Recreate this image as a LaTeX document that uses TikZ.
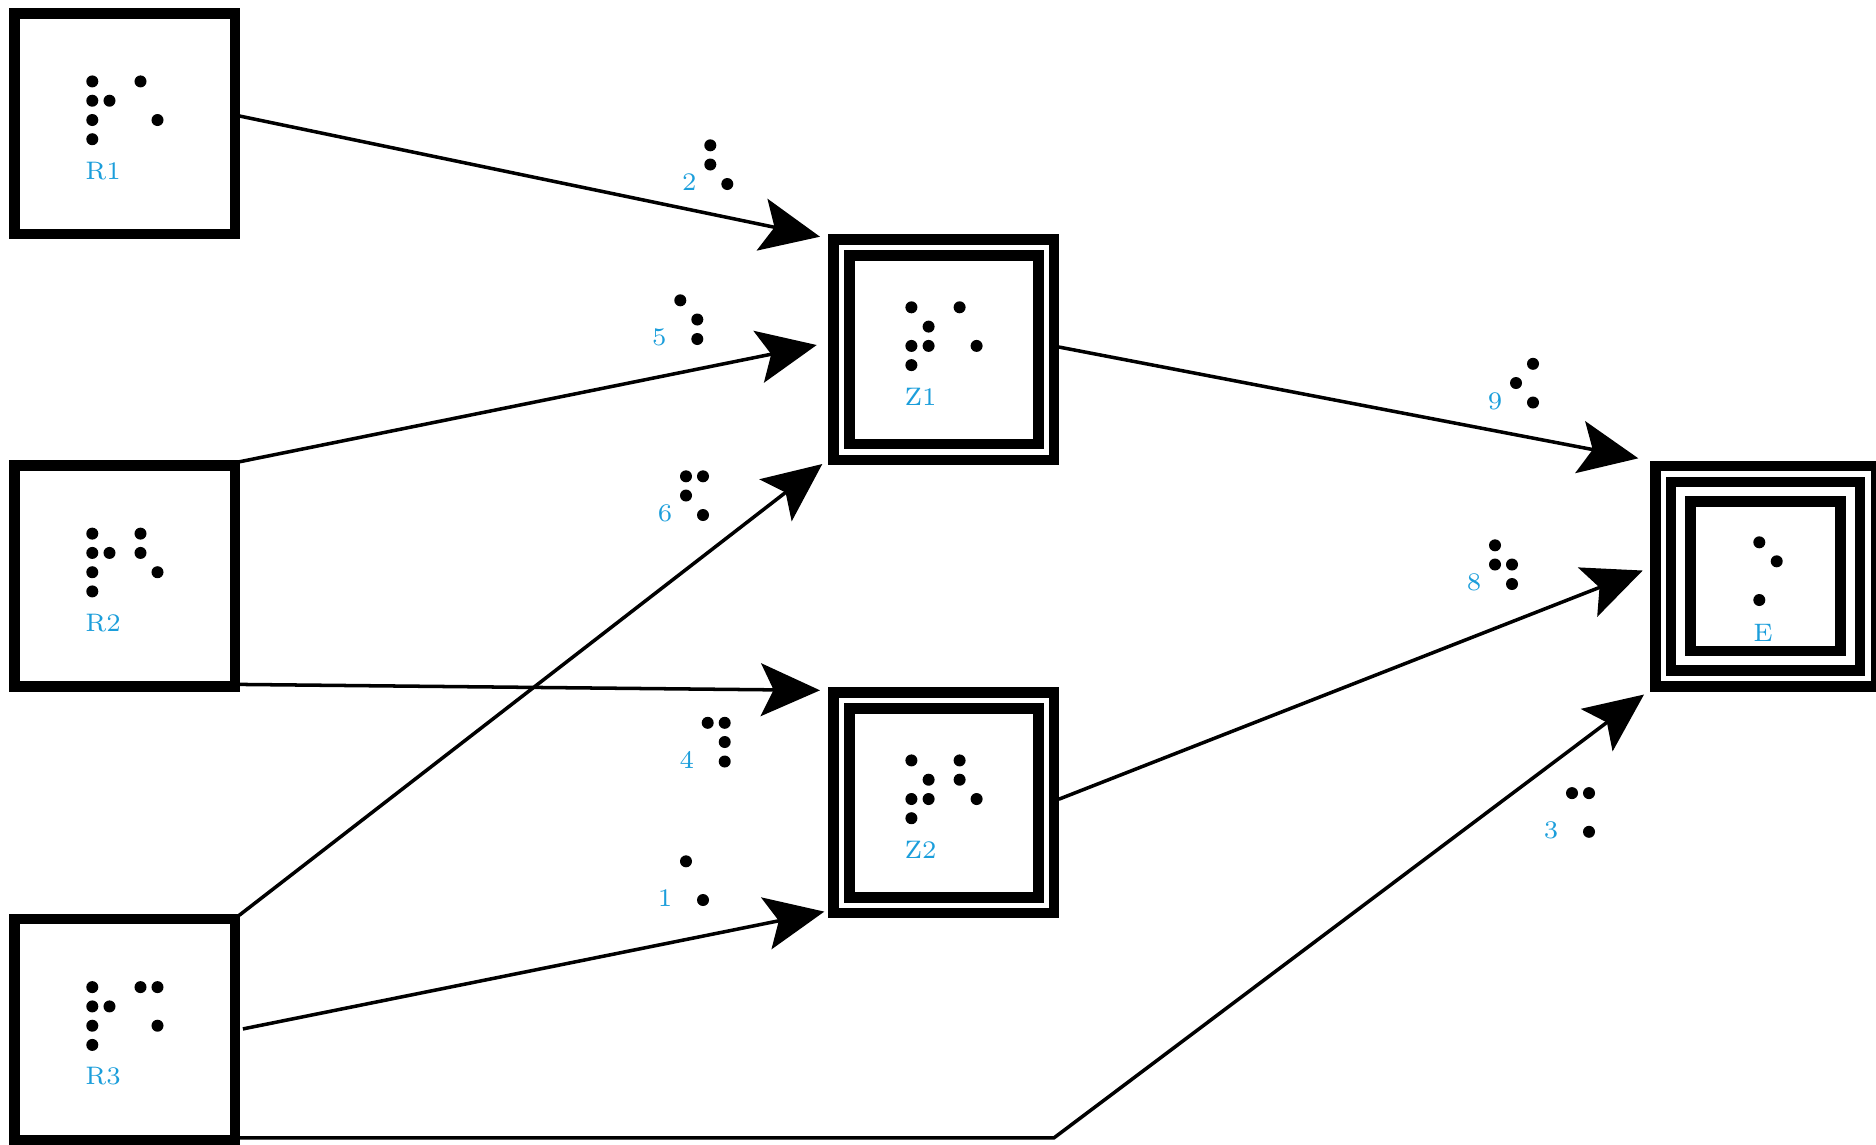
\documentclass[tikz,border=0pt]{standalone}
\usetikzlibrary{arrows.meta}
\definecolor{lblue}{RGB}{27,158,219}
\newcommand{\dotsat}[2]{\foreach \dx/\dy in {#2}{\fill ([shift={(\dx,\dy)}]#1) circle[radius=0.06cm];}}
\begin{document}
\begin{tikzpicture}[x=0.01cm,y=-0.01cm,
  rbox/.style={draw, line width=3pt, minimum size=2.205cm, inner sep=0pt},
  zbox/.style={draw, double, line width=3pt, double distance=1.5pt, minimum size=2.046cm, inner sep=0pt},
  ebox/.style={zbox, path picture={\draw[line width=3pt] ([shift={(0.275cm,0.275cm)}]path picture bounding box.south west) rectangle ([shift={(-0.275cm,-0.275cm)}]path picture bounding box.north east);}},
  lab/.style={text=lblue, font=\fontsize{7.2}{8.5}\selectfont, inner sep=0pt},
  conn/.style={line width=1pt, -{Stealth[length=16.8pt,width=15pt,inset=3.6pt]}},
]
\fill[white] (0,0) rectangle (1876,1144);
\useasboundingbox (0,0) rectangle (1876,1144);

% nodes
\node[rbox] (R1) at (124.7,123.8) {};
\node[rbox] (R2) at (124.7,576) {};
\node[rbox] (R3) at (124.7,1029.5) {};
\node[zbox] (Z1) at (943.8,349.7) {};
\node[zbox] (Z2) at (943.8,802.8) {};
\node[ebox] (E) at (1765.5,576.3) {};

% node texts
\node[lab, anchor=west] (R1t) at ([shift={(-40,47)}]R1.center) {R1};
\node[lab, anchor=west] (R2t) at ([shift={(-40,47)}]R2.center) {R2};
\node[lab, anchor=west] (R3t) at ([shift={(-40,47)}]R3.center) {R3};
\node[lab, anchor=west] (Z1t) at ([shift={(-40,47)}]Z1.center) {Z1};
\node[lab, anchor=west] (Z2t) at ([shift={(-40,47)}]Z2.center) {Z2};
\node[lab, anchor=west] (Et) at ([shift={(-12.8,56.5)}]E.center) {E};

\dotsat{R1.center}{-32.4/-42.4, -32.4/-23.1, -15.2/-23.1, -32.4/-3.8, -32.4/15.4, 15.8/-42.4, 32.8/-3.8}
\dotsat{R2.center}{-32.4/-42.4, -32.4/-23.1, -15.2/-23.1, -32.4/-3.8, -32.4/15.4, 15.8/-42.4, 15.8/-23.1, 32.8/-3.8}
\dotsat{R3.center}{-32.4/-42.4, -32.4/-23.1, -15.2/-23.1, -32.4/-3.8, -32.4/15.4, 15.8/-42.4, 32.8/-42.4, 32.8/-3.8}
\dotsat{Z1.center}{-32.4/-42.4, -15.2/-23.1, -32.4/-3.8, -15.2/-3.8, -32.4/15.4, 15.8/-42.4, 32.8/-3.8}
\dotsat{Z2.center}{-32.4/-42.4, -15.2/-23.1, -32.4/-3.8, -15.2/-3.8, -32.4/15.4, 15.8/-42.4, 15.8/-23.1, 32.8/-3.8}
\dotsat{E.center}{-6.2/-34, 11.2/-15, -6.2/23.7}

% connectors
\draw[conn] ([shift={(114.8,-7.8)}]R1.center) -- ([shift={(-123.8,-113)}]Z1.center);
\draw[conn] ([shift={(114.6,-114.2)}]R2.center) -- ([shift={(-127.1,-4.7)}]Z1.center);
\draw[conn] ([shift={(114.6,-114.3)}]R3.center) -- ([shift={(-121.5,114.3)}]Z1.center);
\draw[conn] ([shift={(114.6,108.4)}]R2.center) -- ([shift={(-123.8,-112.5)}]Z2.center);
\draw[conn] ([shift={(118.2,-0.6)}]R3.center) -- ([shift={(-119.5,108.8)}]Z2.center);
\draw[conn] ([shift={(115,-2.7)}]Z1.center) -- ([shift={(-127.2,-118)}]E.center);
\draw[conn] ([shift={(115,-3.6)}]Z2.center) -- ([shift={(-122.8,-5.8)}]E.center);
\coordinate (bend) at (1054,1137.8);
\draw[conn] ([shift={(112.2,108.3)}]R3.center) -- (bend) -- ([shift={(-121.5,118.2)}]E.center);

% connector labels
\node[lab] (l2) at (689.3,182.5) {2};
\node[lab] (l5) at (659.3,337.5) {5};
\node[lab] (l6) at (665,513.5) {6};
\node[lab] (l4) at (686.7,760) {4};
\node[lab] (l1) at (665,898.5) {1};
\node[lab] (l9) at (1495,401) {9};
\node[lab] (l8) at (1474,582.5) {8};
\node[lab] (l3) at (1551,830.3) {3};
\dotsat{l2.center}{21/-37.2, 21/-18, 38/1.5}
\dotsat{l5.center}{21/-37.2, 38/-18, 38/1.5}
\dotsat{l6.center}{21/-37.2, 38/-37.2, 21/-18, 38/1.5}
\dotsat{l4.center}{21/-37.2, 38/-37.2, 38/-18, 38/1.5}
\dotsat{l1.center}{21/-37.2, 38/1.5}
\dotsat{l9.center}{38/-37.2, 21/-18, 38/1.5}
\dotsat{l8.center}{21/-37.2, 21/-18, 38/-18, 38/1.5}
\dotsat{l3.center}{21/-37.2, 38/-37.2, 38/1.5}
\end{tikzpicture}
\end{document}
